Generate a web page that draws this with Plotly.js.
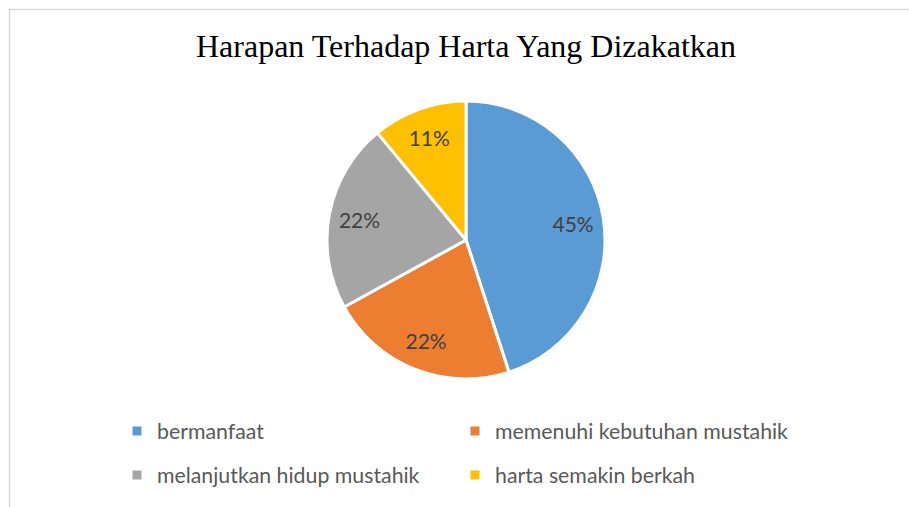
<!DOCTYPE html>
<html>
<head>
<meta charset="utf-8">
<script src="https://cdn.plot.ly/plotly-3.0.1.min.js"></script>
<style>
html,body{margin:0;padding:0;background:#fff;}
#chart{width:909px;height:507px;}
</style>
</head>
<body>
<div id="chart"></div>
<script>
var chartTitle = "Harapan Terhadap Harta Yang Dizakatkan";
var categories = ["bermanfaat", "memenuhi kebutuhan mustahik", "melanjutkan hidup mustahik", "harta semakin berkah"];
var percentValues = [45, 22, 22, 11];
var sliceColors = ["#5B9BD5", "#ED7D31", "#A5A5A5", "#FFC000"];

var W = 909, H = 507;
var legendLabels = categories.map(function(c){ return '<span style="font-size:21.3px;baseline-shift:4px">' + c + '</span>'; });
var pieDomain = {x: [(466-139)/W, (466+139)/W], y: [1-379/H, 1-101/H]};

// main pie (slices + legend)
var pieTrace = {
  type: 'pie',
  labels: legendLabels,
  values: percentValues,
  sort: false,
  direction: 'clockwise',
  rotation: 0,
  marker: {colors: sliceColors, line: {color: '#ffffff', width: 3}},
  textinfo: 'none',
  hoverinfo: 'label+percent',
  domain: pieDomain
};

// transparent overlay ring used only to place the percentage labels further out
var labelTrace = {
  type: 'pie',
  labels: legendLabels,
  values: percentValues,
  sort: false,
  direction: 'clockwise',
  rotation: 0,
  hole: 0.56,
  showlegend: false,
  marker: {colors: sliceColors.map(function(){ return 'rgba(0,0,0,0)'; }), line: {width: 0}},
  textinfo: 'percent',
  texttemplate: '%{percent:.0%}',
  textposition: 'inside',
  insidetextorientation: 'horizontal',
  insidetextfont: {family: 'Lato, "Liberation Sans", sans-serif', size: 21, color: '#404040'},
  hoverinfo: 'skip',
  domain: pieDomain
};

var layout = {
  width: W, height: H,
  margin: {l: 0, r: 0, t: 0, b: 0},
  paper_bgcolor: '#ffffff',
  title: {
    text: chartTitle,
    font: {family: '"Liberation Serif", "Times New Roman", serif', size: 32, color: '#000000'},
    x: 466/W, xanchor: 'center', y: 1-46/H, yanchor: 'middle'
  },
  showlegend: true,
  legend: {
    orientation: 'h',
    entrywidth: 293,
    x: 117/W, xanchor: 'left',
    y: 1-404/H, yanchor: 'top',
    font: {family: 'Lato, "Liberation Sans", sans-serif', size: 31.5, color: '#595959'},
    bgcolor: 'rgba(0,0,0,0)'
  },
  shapes: [
    {type: 'line', xref: 'paper', yref: 'paper', x0: 9/W, x1: 1, y0: 1-9.5/H, y1: 1-9.5/H, line: {color: '#d9d9d9', width: 1.5}},
    {type: 'line', xref: 'paper', yref: 'paper', x0: 9.5/W, x1: 9.5/W, y0: 0, y1: 1-9/H, line: {color: '#d9d9d9', width: 1.5}}
  ]
};

Plotly.newPlot('chart', [pieTrace, labelTrace], layout, {displayModeBar: false, staticPlot: true});
</script>
</body>
</html>
